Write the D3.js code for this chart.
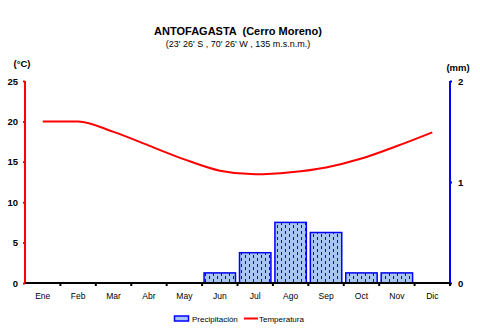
<!DOCTYPE html>
<html><head><meta charset="utf-8">
<script src="https://cdn.jsdelivr.net/npm/d3@7"></script>
<style>body{margin:0;background:#fff}svg{display:block}text{font-family:"Liberation Sans",Arial,sans-serif;white-space:pre}</style>
</head><body>
<script>
const months = ["Ene","Feb","Mar","Abr","May","Jun","Jul","Ago","Sep","Oct","Nov","Dic"];
const temperatura = [20.0,20.0,18.7,17.0,15.3,13.9,13.45,13.7,14.3,15.4,16.95,18.65];
const precipitacion = [0,0,0,0,0,0.1,0.3,0.6,0.5,0.1,0.1,0];
const tempTicks = [0,5,10,15,20,25];
const precTicks = [0,1,2];
const title = "ANTOFAGASTA  (Cerro Moreno)";
const subtitle = "(23' 26' S , 70' 26' W , 135 m.s.n.m.)";

const W=480,H=330, L=25, R=450, T=81, B=283;
const svg=d3.select("body").append("svg").attr("width",W).attr("height",H);
const defs=svg.append("defs");
const pat=defs.append("pattern").attr("id","rain").attr("patternUnits","userSpaceOnUse")
  .attr("width",8).attr("height",6);
pat.append("rect").attr("width",8).attr("height",6).attr("fill","#a9c5f2");
pat.append("rect").attr("x",1).attr("y",0).attr("width",1).attr("height",3).attr("fill","#0000ff");
pat.append("rect").attr("x",5).attr("y",3).attr("width",1).attr("height",3).attr("fill","#0000ff");

const x=d3.scaleBand().domain(months).range([L,R]).padding(0);
const yT=d3.scaleLinear().domain([0,25]).range([B,T]);
const yP=d3.scaleLinear().domain([0,2]).range([B,T]);

svg.append("text").attr("x",238).attr("y",35).attr("text-anchor","middle")
  .attr("font-size",11).attr("font-weight","bold").text(title);
svg.append("text").attr("x",238).attr("y",47).attr("text-anchor","middle")
  .attr("font-size",9).text(subtitle);
svg.append("text").attr("x",22).attr("y",67).attr("text-anchor","middle")
  .attr("font-size",9.5).attr("font-weight","bold").text("(°C)");
svg.append("text").attr("x",458).attr("y",71).attr("text-anchor","middle")
  .attr("font-size",9.5).attr("font-weight","bold").text("(mm)");

// bars
const data=months.map((m,i)=>({m,p:precipitacion[i],t:temperatura[i]}));
svg.append("g").selectAll("rect").data(data.filter(d=>d.p>0)).join("rect")
  .attr("x",d=>x(d.m)+2).attr("width",x.bandwidth()-4)
  .attr("y",d=>yP(d.p)).attr("height",d=>B-yP(d.p))
  .attr("fill","url(#rain)").attr("stroke","#0000ff").attr("stroke-width",1.5);

// temperature line
const line=d3.line().x(d=>x(d.m)+x.bandwidth()/2).y(d=>yT(d.t)).curve(d3.curveMonotoneX);
svg.append("path").datum(data).attr("d",line).attr("fill","none")
  .attr("stroke","#ff0000").attr("stroke-width",2);

// left axis
const gl=svg.append("g").attr("transform",`translate(${L},0)`)
  .call(d3.axisLeft(yT).tickValues(tempTicks).tickSize(2).tickPadding(5));
gl.select(".domain").attr("stroke","#ff0000").attr("stroke-width",2).attr("d",`M0,${T}V${B}`);
gl.selectAll(".tick line").attr("stroke","#ff0000").attr("stroke-width",2);
gl.selectAll(".tick text").attr("font-size",9.5).attr("font-weight","bold").attr("fill","#000")
  .attr("font-family","Liberation Sans, Arial, sans-serif");

// right axis
const gr=svg.append("g").attr("transform",`translate(${R},0)`)
  .call(d3.axisRight(yP).tickValues(precTicks).tickFormat(d3.format("d")).tickSize(2).tickPadding(6));
gr.select(".domain").attr("stroke","#0000ff").attr("stroke-width",2).attr("d",`M0,${T}V${B}`);
gr.selectAll(".tick line").attr("stroke","#0000ff").attr("stroke-width",2);
gr.selectAll(".tick text").attr("font-size",9.5).attr("font-weight","bold").attr("fill","#000")
  .attr("font-family","Liberation Sans, Arial, sans-serif");

// bottom axis
const gb=svg.append("g").attr("transform",`translate(0,${B})`)
  .call(d3.axisBottom(x).tickSize(0).tickPadding(10));
gb.select(".domain").attr("stroke","#000").attr("stroke-width",2).attr("d",`M${L},0H${R}`);
gb.selectAll(".tick text").attr("font-size",8.5).attr("fill","#000")
  .attr("font-family","Liberation Sans, Arial, sans-serif");
gb.append("g").selectAll("line").data(months).join("line")
  .attr("x1",d=>x(d)+x.bandwidth()).attr("x2",d=>x(d)+x.bandwidth())
  .attr("y1",0).attr("y2",3).attr("stroke","#000").attr("stroke-width",2);

// legend
const lg=svg.append("g");
lg.append("rect").attr("x",174.5).attr("y",316).attr("width",14).attr("height",5)
  .attr("fill","#a9c5f2").attr("stroke","#0000ff").attr("stroke-width",1.5);
lg.append("text").attr("x",192).attr("y",322).attr("font-size",8).text("Precipitación");
lg.append("line").attr("x1",244).attr("x2",258).attr("y1",318.5).attr("y2",318.5)
  .attr("stroke","#ff0000").attr("stroke-width",2);
lg.append("text").attr("x",259).attr("y",322).attr("font-size",8).text("Temperatura");
</script>
</body></html>
